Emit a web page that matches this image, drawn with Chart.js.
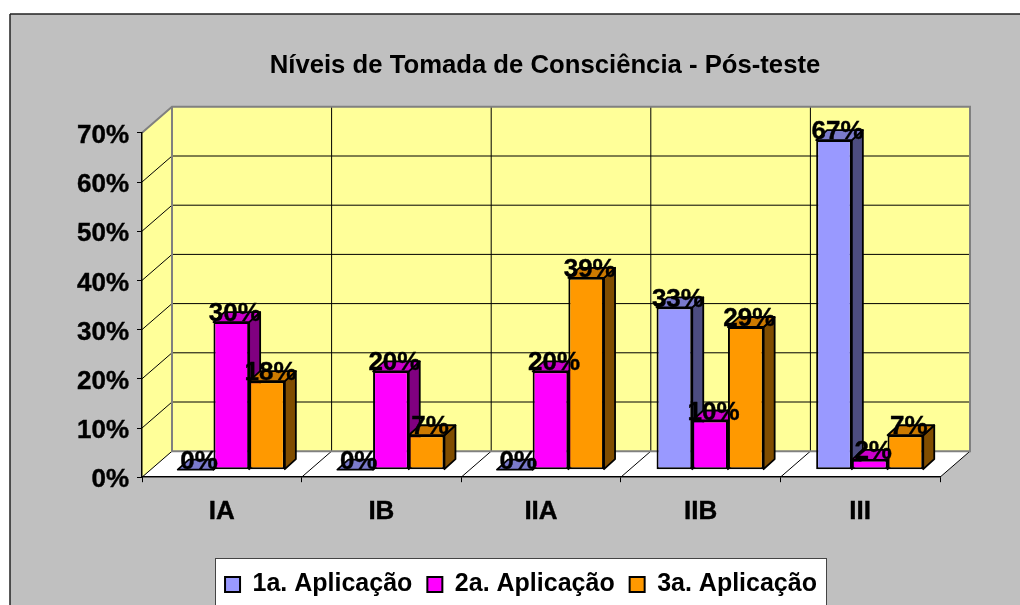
<!DOCTYPE html>
<html><head><meta charset="utf-8">
<style>html,body{margin:0;padding:0;background:#fff}canvas{display:block}</style>
<script src="https://cdn.jsdelivr.net/npm/chart.js@4"></script>
</head><body><canvas id="c" width="1020" height="605"></canvas>
<script>
const titleText = 'Níveis de Tomada de Consciência - Pós-teste';
const categories = ['IA','IB','IIA','IIB','III'];
const seriesNames = ['1a. Aplicação','2a. Aplicação','3a. Aplicação'];
const app1 = [0,0,0,33,67];
const app2 = [30,20,20,10,2];
const app3 = [18,7,39,29,7];
const yTicks = [0,10,20,30,40,50,60,70];

const frontColors = ['#9999FF','#FF00FF','#FF9900'];
const topColors   = ['#7A7ACC','#CC00CC','#CC7A00'];
const sideColors  = ['#4D4D80','#800080','#804D00'];
const FONT = 'bold 26px "Liberation Sans"';
const wallDX = 30, wallDY = -26;   // depth of the walls
const barDX = 9.5, barDY = -7.5;   // bars stand inside the floor
const depthX = 11, depthY = -10;   // depth of a bar

function poly(ctx, pts, fill, stroke, lw){
  ctx.beginPath();
  pts.forEach((p,i)=> i?ctx.lineTo(p[0],p[1]):ctx.moveTo(p[0],p[1]));
  ctx.closePath();
  if(fill){ctx.fillStyle=fill;ctx.fill();}
  if(stroke){ctx.strokeStyle=stroke;ctx.lineWidth=lw;ctx.lineJoin='round';ctx.stroke();}
}
function seg(ctx,x1,y1,x2,y2,c,lw){
  ctx.beginPath();ctx.moveTo(x1,y1);ctx.lineTo(x2,y2);ctx.strokeStyle=c;ctx.lineWidth=lw;ctx.stroke();
}

const scene = {
  id:'scene',
  afterLayout(chart){
    const t = chart.titleBlock; t.left = 70; t.right = 1020;
    const l = chart.legend; l.left += 51; l.right += 51; l.top += 2; l.bottom += 2;
  },
  beforeDraw(chart){
    const ctx = chart.ctx, a = chart.chartArea, ys = chart.scales.y;
    ctx.save();
    ctx.fillStyle='#fff';ctx.fillRect(0,0,1020,605);
    ctx.fillStyle='#C0C0C0';ctx.fillRect(10,14,1010,591);
    seg(ctx,10,14,1020,14,'#222',1.5);
    seg(ctx,10,14,10,605,'#222',1.5);
    // legend panel
    ctx.fillStyle='#fff';ctx.fillRect(215,558,612,60);
    ctx.strokeStyle='#444';ctx.lineWidth=1;ctx.strokeRect(215.5,558.5,611,60);
    const L=a.left,R=a.right,T=a.top,B=a.bottom;
    // floor and walls
    poly(ctx,[[L,B],[R,B],[R+wallDX,B+wallDY],[L+wallDX,B+wallDY]],'#FFFFFF');
    poly(ctx,[[L,B],[L+wallDX,B+wallDY],[L+wallDX,T+wallDY],[L,T]],'#FFFF99');
    ctx.fillStyle='#FFFF99';ctx.fillRect(L+wallDX,T+wallDY,R-L,B-T);
    // value gridlines on side and back walls
    yTicks.slice(1,-1).forEach(v=>{
      const y=ys.getPixelForValue(v);
      seg(ctx,L+wallDX,y+wallDY,R+wallDX,y+wallDY,'#000',1);
      seg(ctx,L,y,L+wallDX,y+wallDY,'#000',1);
    });
    // category gridlines on floor and back wall
    categories.forEach((c,i)=>{
      const w=(R-L)/categories.length, x=L+w*(i+1);
      if(i<categories.length-1) seg(ctx,x+wallDX,T+wallDY,x+wallDX,B+wallDY,'#000',1);
      seg(ctx,x,B,x+wallDX,B+wallDY,'#000',1);
    });
    seg(ctx,L,B,L+wallDX,B+wallDY,'#000',1);
    // wall edges
    ctx.strokeStyle='#808080';ctx.lineWidth=2;ctx.lineJoin='miter';
    ctx.beginPath();
    ctx.moveTo(L,T);ctx.lineTo(L+wallDX,T+wallDY);ctx.lineTo(R+wallDX,T+wallDY);ctx.lineTo(R+wallDX,B+wallDY);ctx.lineTo(L+wallDX,B+wallDY);ctx.lineTo(L+wallDX,T+wallDY);
    ctx.stroke();
    ctx.restore();
  },
  beforeDatasetsDraw(chart){
    const ctx=chart.ctx;
    ctx.save();
    ctx.translate(barDX,barDY);
    // side and top faces, left to right; the library then paints the front faces over them
    categories.forEach((c,i)=>{
      chart.data.datasets.forEach((ds,d)=>{
        const el=chart.getDatasetMeta(d).data[i];
        const l=el.x-el.width/2,r=el.x+el.width/2,t=el.y,b=el.base;
        poly(ctx,[[r,t],[r+depthX,t+depthY],[r+depthX,b+depthY],[r,b]],sideColors[d],'#000',1.8);
        poly(ctx,[[l,t],[r,t],[r+depthX,t+depthY],[l+depthX,t+depthY]],topColors[d],'#000',1.8);
      });
    });
  },
  afterDatasetsDraw(chart){
    const ctx=chart.ctx;
    // data labels
    ctx.font=FONT;ctx.fillStyle='#000';ctx.strokeStyle='#000';ctx.lineWidth=0.4;ctx.textAlign='center';ctx.textBaseline='middle';
    chart.data.datasets.forEach((ds,d)=>{
      chart.getDatasetMeta(d).data.forEach((el,i)=>{
        const s=ds.data[i]+'%';
        ctx.fillText(s,el.x+3.5,el.y-8);
        ctx.strokeText(s,el.x+3.5,el.y-8);
      });
    });
    ctx.restore();
  }
};

const tickFont={family:'"Liberation Sans"',size:26,weight:'bold'};
new Chart(document.getElementById('c'),{
  type:'bar',
  data:{labels:categories,datasets:[app1,app2,app3].map((vals,i)=>({
    label:seriesNames[i],data:vals,backgroundColor:frontColors[i],borderColor:'#000',borderWidth:2,borderSkipped:false,
    categoryPercentage:0.671,barPercentage:1,clip:false
  }))},
  options:{
    responsive:false,animation:false,events:[],devicePixelRatio:1,
    layout:{padding:{left:0,top:0,right:80,bottom:0}},
    plugins:{
      tooltip:{enabled:false},
      title:{display:true,text:titleText,color:'#000',font:{family:'"Liberation Sans"',size:25.7,weight:'bold'},padding:{top:50,bottom:51.96}},
      legend:{display:true,position:'bottom',labels:{color:'#000',font:{family:'"Liberation Sans"',size:25,weight:'bold'},boxWidth:15,boxHeight:15,padding:15}}
    },
    scales:{
      x:{grid:{drawOnChartArea:false,drawTicks:true,tickLength:5,color:'#000'},border:{color:'#000',width:1.5},
         ticks:{color:'#000',font:tickFont,padding:14,maxRotation:0,textStrokeColor:'#000',textStrokeWidth:0.4},
         afterFit(s){s.height=127.8-(s.chart.legend?s.chart.legend.height:0);}},
      y:{min:0,max:70,afterBuildTicks(s){s.ticks=yTicks.map(v=>({value:v}));},
         grid:{drawOnChartArea:false,drawTicks:true,tickLength:5,color:'#000'},border:{color:'#000',width:1.5},
         ticks:{color:'#000',font:tickFont,padding:8,labelOffset:3,textStrokeColor:'#000',textStrokeWidth:0.4,callback:v=>v+'%'},
         afterFit(s){s.width=142;}}
    }
  },
  plugins:[scene]
});
</script></body></html>
